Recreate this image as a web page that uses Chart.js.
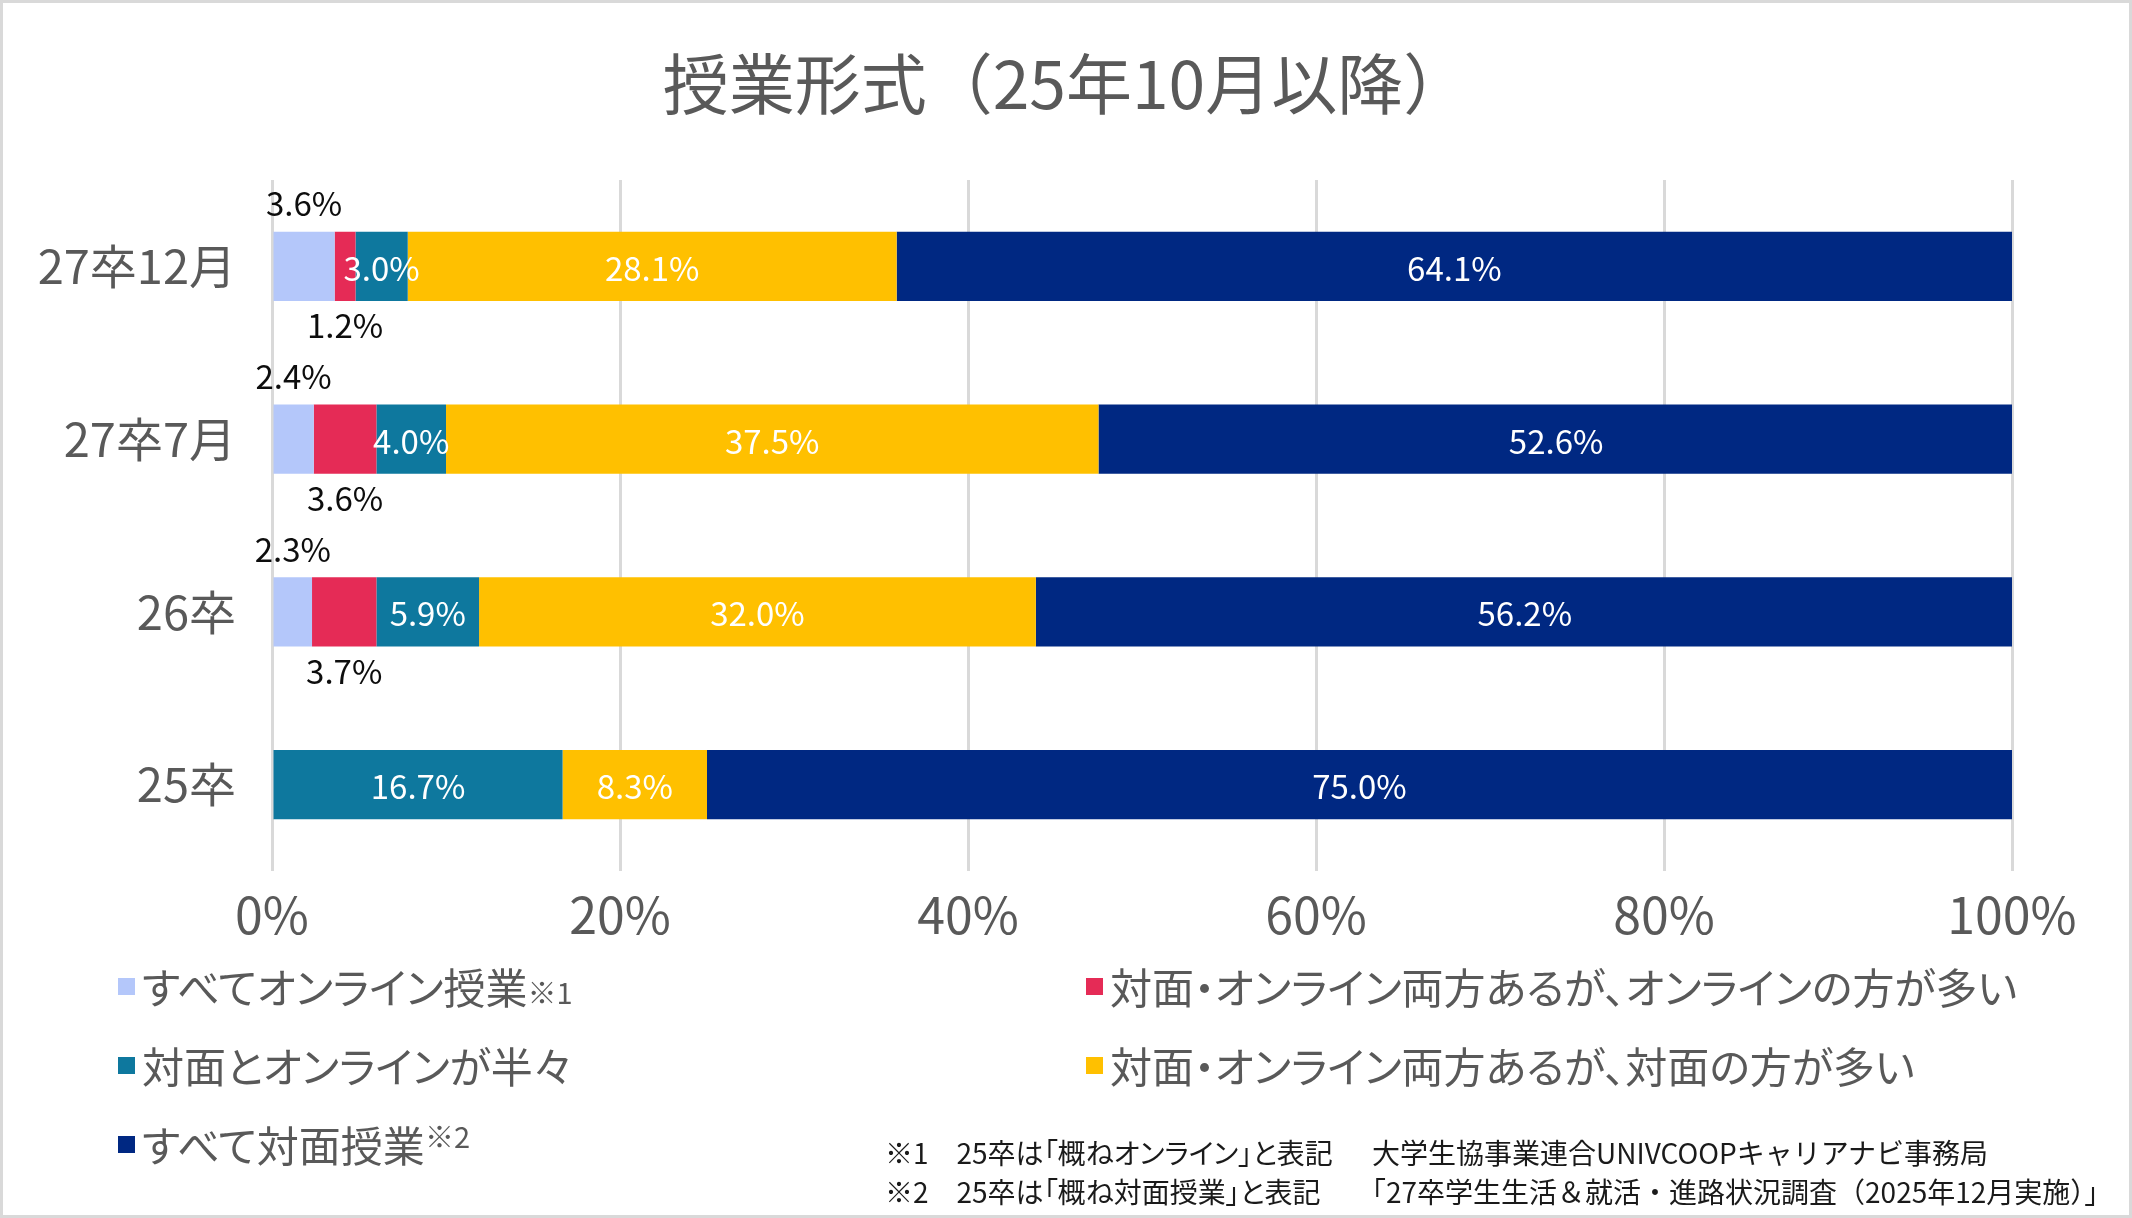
<!DOCTYPE html>
<html lang="ja">
<head>
<meta charset="utf-8">
<title>授業形式（25年10月以降）</title>
<script src="https://cdn.jsdelivr.net/npm/chart.js@4"></script>
<style>
  html, body { margin: 0; padding: 0; background: #fff; }
  #wrap { position: relative; width: 2132px; height: 1218px; overflow: hidden; }
  #frame { position: absolute; left: 0; top: 0; width: 2132px; height: 1218px; box-sizing: border-box; border: 3px solid #d9d9d9; pointer-events: none; }
  #title { position: absolute; left: 0; top: 80px; width: 2132px; text-align: center; transform: translateY(-50%); font-family: "Noto Sans CJK JP", sans-serif; font-size: 66px; color: #595959; line-height: 1; white-space: nowrap; }
  .lg { position: absolute; font-family: "Noto Sans CJK JP", sans-serif; font-size: 42px; color: #595959; white-space: nowrap; transform: translateY(-50%); line-height: 1; font-feature-settings: "palt"; }
  .lg .box { position: absolute; width: 17px; height: 17px; top: 50%; margin-top: -8px; }
  .lg .mk1 { font-size: 29px; }
  .lg .mk2 { font-size: 29px; position: relative; top: -14px; }
  .note { position: absolute; font-family: "Noto Sans CJK JP", sans-serif; font-size: 28px; color: #1a1a1a; white-space: nowrap; transform: translateY(-50%); line-height: 1; }
  .note.left { font-feature-settings: "palt"; }
</style>
</head>
<body>
<div id="wrap">
  <canvas id="chart"></canvas>
  <div id="title"></div>
  <div id="legend"></div>
  <div id="notes"></div>
  <div id="frame"></div>
</div>
<script>
// categories (top to bottom)
const categories = ['27卒12月', '27卒7月', '26卒', '25卒'];

// series values (%)
const allOnline = [3.6, 2.4, 2.3, 0];
const moreOnline = [1.2, 3.6, 3.7, 0];
const halfHalf = [3.0, 4.0, 5.9, 16.7];
const moreFace = [28.1, 37.5, 32.0, 8.3];
const allFace = [64.1, 52.6, 56.2, 75.0];

const seriesNames = [
  'すべてオンライン授業',
  '対面・オンライン両方あるが、オンラインの方が多い',
  '対面とオンラインが半々',
  '対面・オンライン両方あるが、対面の方が多い',
  'すべて対面授業'
];
const seriesMarks = ['※1', '', '', '', '※2'];
const seriesColors = ['#b4c7fa', '#e52b56', '#0e789e', '#ffc000', '#002882'];

const xTicks = [0, 20, 40, 60, 80, 100];

const titleText = '授業形式（25年10月以降）';
const noteLeft = ['※1　25卒は「概ねオンライン」と表記', '※2　25卒は「概ね対面授業」と表記'];
const noteRight = ['大学生協事業連合UNIVCOOPキャリアナビ事務局', '「27卒学生生活＆就活・進路状況調査（2025年12月実施）」'];

const FONT = '"Noto Sans CJK JP", "Noto Sans", sans-serif';
const values = [allOnline, moreOnline, halfHalf, moreFace, allFace];

// data labels: small first two series sit above / below the bar, rest inside
const barLabels = {
  id: 'barLabels',
  afterDatasetsDraw(chart) {
    const ctx = chart.ctx;
    ctx.save();
    ctx.font = '33px ' + FONT;
    ctx.textAlign = 'center';
    ctx.textBaseline = 'middle';
    chart.data.datasets.forEach((ds, di) => {
      const meta = chart.getDatasetMeta(di);
      meta.data.forEach((bar, i) => {
        const v = ds.data[i];
        if (!v) return;
        const cx = (bar.x + bar.base) / 2;
        const half = bar.height / 2;
        const txt = v.toFixed(1) + '%';
        if (di === 0) {
          ctx.fillStyle = '#0d0d0d';
          ctx.fillText(txt, cx, bar.y - half - 28);
        } else if (di === 1) {
          ctx.fillStyle = '#0d0d0d';
          ctx.fillText(txt, cx, bar.y + half + 25);
        } else {
          ctx.fillStyle = '#ffffff';
          ctx.fillText(txt, cx, bar.y + 2);
        }
      });
    });
    ctx.restore();
  }
};

new Chart(document.getElementById('chart'), {
  type: 'bar',
  data: {
    labels: categories,
    datasets: values.map((d, i) => ({
      label: seriesNames[i],
      data: d,
      backgroundColor: seriesColors[i],
      borderWidth: 0,
      barPercentage: 0.4,
      categoryPercentage: 1
    }))
  },
  options: {
    indexAxis: 'y',
    responsive: true,
    maintainAspectRatio: false,
    animation: false,
    layout: { padding: { left: 0, right: 120, top: 180, bottom: 257 } },
    plugins: {
      legend: { display: false },
      tooltip: { enabled: false }
    },
    scales: {
      x: {
        stacked: true,
        min: 0,
        max: 100,
        afterBuildTicks: s => { s.ticks = xTicks.map(v => ({ value: v })); },
        ticks: {
          color: '#595959',
          font: { family: FONT, size: 50 },
          padding: 14,
          callback: v => v + '%'
        },
        grid: { color: '#d9d9d9', lineWidth: 3, drawTicks: false },
        border: { display: false },
        afterFit: s => { s.height = 90; }
      },
      y: {
        stacked: true,
        ticks: {
          color: '#595959',
          font: { family: FONT, size: 47 },
          padding: 36
        },
        grid: { display: false, drawTicks: false },
        border: { display: false },
        afterFit: s => { s.width = 272; }
      }
    }
  },
  plugins: [barLabels]
});

document.getElementById('title').textContent = titleText;

// legend, two columns
const legendEl = document.getElementById('legend');
const legendCols = [118, 1086];
const legendRows = [986, 1065, 1144];
seriesNames.forEach((name, i) => {
  const item = document.createElement('div');
  item.className = 'lg';
  item.style.left = (legendCols[i % 2] + 24) + 'px';
  item.style.top = legendRows[Math.floor(i / 2)] + 'px';
  const box = document.createElement('span');
  box.className = 'box';
  box.style.background = seriesColors[i];
  box.style.left = '-24px';
  item.appendChild(box);
  item.appendChild(document.createTextNode(name));
  if (seriesMarks[i]) {
    const mk = document.createElement('span');
    mk.className = i === 0 ? 'mk1' : 'mk2';
    mk.textContent = seriesMarks[i];
    item.appendChild(mk);
  }
  legendEl.appendChild(item);
});

// footnotes
const notesEl = document.getElementById('notes');
const noteRows = [1152, 1191];
noteLeft.forEach((t, i) => {
  const a = document.createElement('div');
  a.className = 'note left';
  a.style.left = '885px';
  a.style.top = noteRows[i] + 'px';
  a.textContent = t;
  notesEl.appendChild(a);
  const b = document.createElement('div');
  b.className = 'note';
  b.style.left = (i === 0 ? 1372 : 1358) + 'px';
  b.style.top = noteRows[i] + 'px';
  b.textContent = noteRight[i];
  notesEl.appendChild(b);
});
</script>
</body>
</html>
